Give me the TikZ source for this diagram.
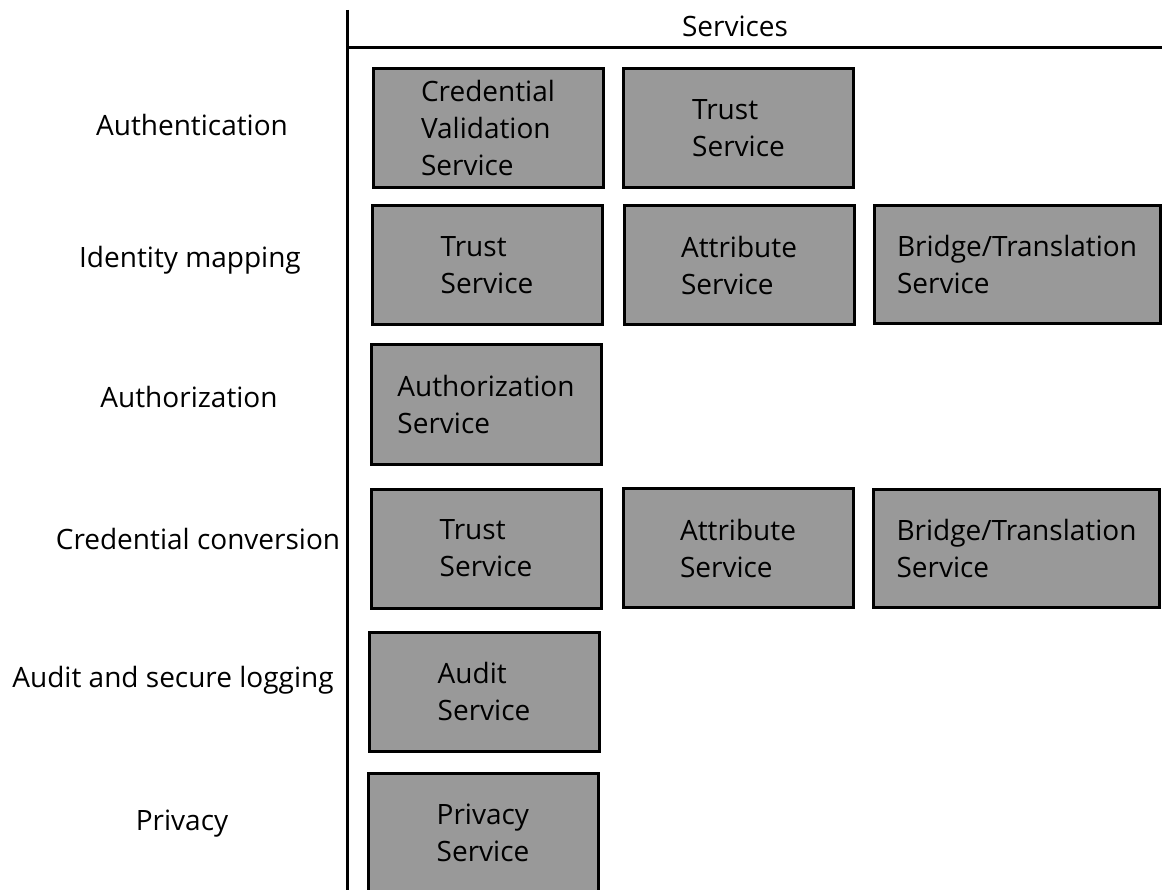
\documentclass[tikz,border=0pt]{standalone}
\usepackage{fontspec}
\setmainfont{Open Sans}
\definecolor{boxgray}{RGB}{153,153,153}
\begin{document}
\begin{tikzpicture}[x=1pt,y=-1pt,
  every node/.style={font=\fontsize{28}{37}\selectfont},
  svc/.style={draw=black, line width=3pt, fill=boxgray, align=left, inner sep=0pt},
  wbox/.style={svc, minimum width=230pt, minimum height=119pt},
  xbox/.style={svc, minimum width=286pt, minimum height=118pt},
  rowlabel/.style={inner sep=0pt}]
\useasboundingbox (0,0) rectangle (1162,890);
% axes
\coordinate (vtop) at (347,10);
\coordinate (vbot) at (347,895);
\coordinate (hl) at (347,48);
\coordinate (hr) at (1165,48);
\draw[line width=3pt] (vtop) -- (vbot);
\draw[line width=3pt] (hl) -- (hr);
\node (services) at (735,26) {Services};
% row labels
\node[rowlabel] (l1) at (192,125) {Authentication};
\node[rowlabel] (l2) at (190,260) {Identity mapping};
\node[rowlabel] (l3) at (189,397) {Authorization};
\node[rowlabel] (l4) at (198,539) {Credential conversion};
\node[rowlabel] (l5) at (173,680) {Audit and secure logging};
\node[rowlabel] (l6) at (182,824) {Privacy};
% row 1
\node[wbox] (a1) at (488,128.5) {Credential\\Validation\\Service};
\node[wbox] (a2) at (738.5,128) {Trust\\Service};
% row 2
\node[wbox] (b1) at (487,265.5) {Trust\\Service};
\node[wbox] (b2) at (739,265.5) {Attribute\\Service};
\node[xbox] (b3) at (1017,265) {Bridge/Translation\\Service};
% row 3
\node[wbox] (c1) at (486,404.5) {Authorization\\Service};
% row 4
\node[wbox] (d1) at (486,548.5) {Trust\\Service};
\node[wbox] (d2) at (738,548) {Attribute\\Service};
\node[xbox] (d3) at (1016.5,548) {Bridge/Translation\\Service};
% row 5
\node[wbox] (e1) at (484,691.5) {Audit\\Service};
% row 6
\node[wbox] (f1) at (483,832.5) {Privacy\\Service};
\end{tikzpicture}
\end{document}
